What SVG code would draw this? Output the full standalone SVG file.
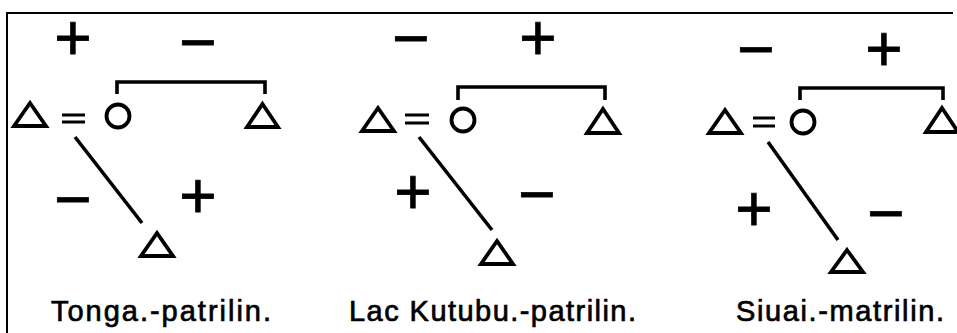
<svg xmlns="http://www.w3.org/2000/svg" width="957" height="333" viewBox="0 0 957 333">
<style>
.sym{fill:none;stroke:#000;stroke-width:3.8;stroke-linejoin:miter}
.con{fill:none;stroke:#000;stroke-width:3.6}
.eq{fill:none;stroke:#000;stroke-width:2.8}
.pm{font-family:"Liberation Sans",Arial,sans-serif;font-size:64px;fill:#000;stroke:#000;stroke-width:0.8;text-anchor:middle}
.lbl{font-family:"Liberation Sans",Arial,sans-serif;font-size:29px;fill:#000;stroke:#000;stroke-width:0.7}
</style>
<rect width="957" height="333" fill="#fff"/>
<path d="M953,13 H7 V333" fill="none" stroke="#000" stroke-width="2"/>

<g id="connectors">
  <path class="con" d="M117,94 V82 H265 V94"/>
  <path class="eq" d="M62,115 H85 M62,122 H85"/>
  <path class="con" d="M75,137 L142,223"/>
  <path class="con" d="M458,100 V87 H605 V100"/>
  <path class="eq" d="M405,115 H429 M405,123 H429"/>
  <path class="con" d="M419,137 L492,230"/>
  <path class="con" d="M800,100 V88 H943 V100"/>
  <path class="eq" d="M753,118 H775 M753,126 H775"/>
  <path class="con" d="M768,142 L838,240"/>
</g>

<g id="panel1">
  <g id="p1-husband"><path class="sym" d="M30,103 L46,126 H14 Z"/></g>
  <g id="p1-wife"><circle class="sym" cx="118" cy="116" r="11.5"/></g>
  <g id="p1-brother"><path class="sym" d="M262.5,104 L278,127 H247 Z"/></g>
  <g id="p1-son"><path class="sym" d="M157,233 L173,256 H141 Z"/></g>
  <g id="p1-signs">
    <text class="pm" x="73" y="60">+</text>
    <text class="pm" x="198" y="64">−</text>
    <text class="pm" x="73" y="221">−</text>
    <text class="pm" x="198" y="218">+</text>
  </g>
  <g id="p1-label"><text class="lbl" x="51" y="321" textLength="220" lengthAdjust="spacing">Tonga.-patrilin.</text></g>
</g>

<g id="panel2">
  <g id="p2-husband"><path class="sym" d="M378,108 L394,131 H362 Z"/></g>
  <g id="p2-wife"><circle class="sym" cx="463" cy="120" r="11.5"/></g>
  <g id="p2-brother"><path class="sym" d="M603,109 L619,133 H587 Z"/></g>
  <g id="p2-son"><path class="sym" d="M497,241 L513,264 H481 Z"/></g>
  <g id="p2-signs">
    <text class="pm" x="411" y="60">−</text>
    <text class="pm" x="538" y="60">+</text>
    <text class="pm" x="413" y="214">+</text>
    <text class="pm" x="537" y="216">−</text>
  </g>
  <g id="p2-label"><text class="lbl" x="349" y="321" textLength="287" lengthAdjust="spacing">Lac Kutubu.-patrilin.</text></g>
</g>

<g id="panel3">
  <g id="p3-husband"><path class="sym" d="M725,110 L741,133 H709 Z"/></g>
  <g id="p3-wife"><circle class="sym" cx="803" cy="122" r="11.5"/></g>
  <g id="p3-brother"><path class="sym" d="M942,108 L958,132 H926 Z"/></g>
  <g id="p3-son"><path class="sym" d="M847,250 L863,272 H831 Z"/></g>
  <g id="p3-signs">
    <text class="pm" x="756" y="71">−</text>
    <text class="pm" x="884" y="71">+</text>
    <text class="pm" x="754" y="231">+</text>
    <text class="pm" x="886" y="235">−</text>
  </g>
  <g id="p3-label"><text class="lbl" x="736" y="321" textLength="208" lengthAdjust="spacing">Siuai.-matrilin.</text></g>
</g>
</svg>
